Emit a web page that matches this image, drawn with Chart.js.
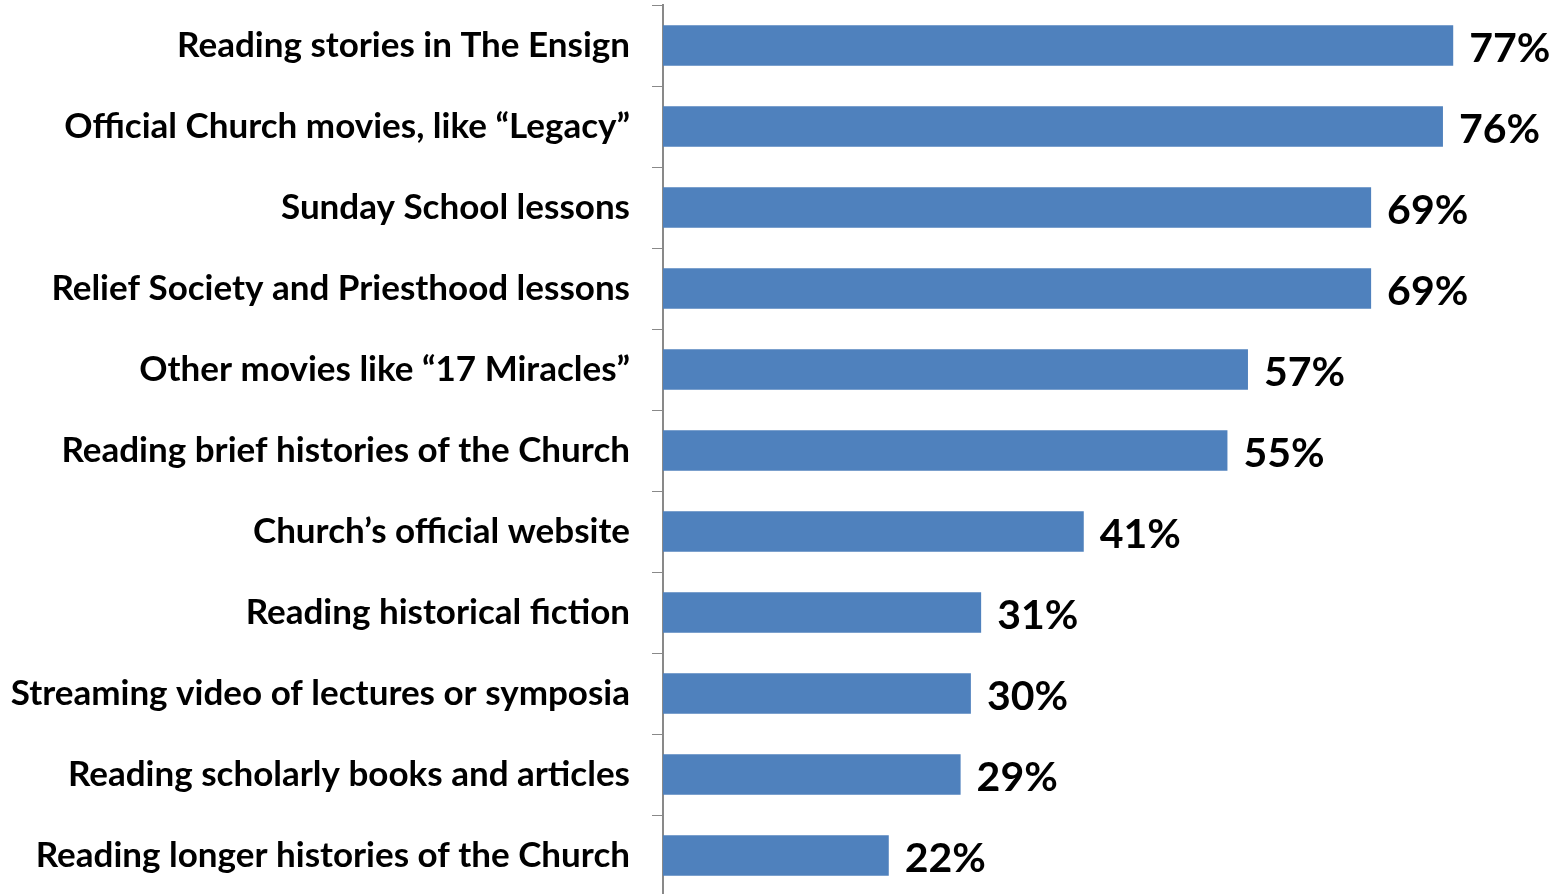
<!DOCTYPE html>
<html>
<head>
<meta charset="utf-8">
<script src="https://cdn.jsdelivr.net/npm/chart.js@4/dist/chart.umd.min.js"></script>
<style>
html,body{margin:0;padding:0;background:#fff;overflow:hidden;}
#wrap{position:absolute;left:0;top:0;width:1560px;height:896px;}
</style>
</head>
<body>
<div id="wrap"><canvas id="c" width="1560" height="896"></canvas></div>
<script>
const categories = [
  "Reading stories in The Ensign",
  "Official Church movies, like \u201cLegacy\u201d",
  "Sunday School lessons",
  "Relief Society and Priesthood lessons",
  "Other movies like \u201c17 Miracles\u201d",
  "Reading brief histories of the Church",
  "Church\u2019s official website",
  "Reading historical fiction",
  "Streaming video of lectures or symposia",
  "Reading scholarly books and articles",
  "Reading longer histories of the Church"
];
const values = [77, 76, 69, 69, 57, 55, 41, 31, 30, 29, 22];

const valueLabels = {
  id: 'valueLabels',
  afterDatasetsDraw(chart) {
    const ctx = chart.ctx;
    const meta = chart.getDatasetMeta(0);
    ctx.save();
    ctx.font = 'bold 41px Lato';
    ctx.fillStyle = '#000';
    ctx.textAlign = 'left';
    ctx.textBaseline = 'middle';
    meta.data.forEach((bar, i) => {
      ctx.fillText(values[i] + '%', bar.x + 16, bar.y + 3);
    });
    ctx.restore();
  }
};

new Chart(document.getElementById('c'), {
  type: 'bar',
  data: {
    labels: categories,
    datasets: [{
      data: values,
      backgroundColor: '#4F81BD',
      borderWidth: 0,
      categoryPercentage: 1,
      barPercentage: 0.5
    }]
  },
  options: {
    indexAxis: 'y',
    responsive: false,
    animation: false,
    layout: { padding: { top: 5, right: 76, bottom: 0, left: 0 } },
    plugins: { legend: { display: false }, tooltip: { enabled: false } },
    scales: {
      x: { display: false, min: 0, max: 80 },
      y: {
        afterFit(scale) { scale.width = 663; scale.paddingTop = 0; scale.paddingBottom = 0; },
        grid: { display: true, drawOnChartArea: false, drawTicks: true, tickLength: 11, color: '#898989', offset: true },
        border: { display: true, color: '#898989', width: 2 },
        ticks: { color: '#000', font: { family: 'Lato', weight: 'bold', size: 35 }, padding: 22 }
      }
    }
  },
  plugins: [valueLabels]
});
</script>
</body>
</html>
